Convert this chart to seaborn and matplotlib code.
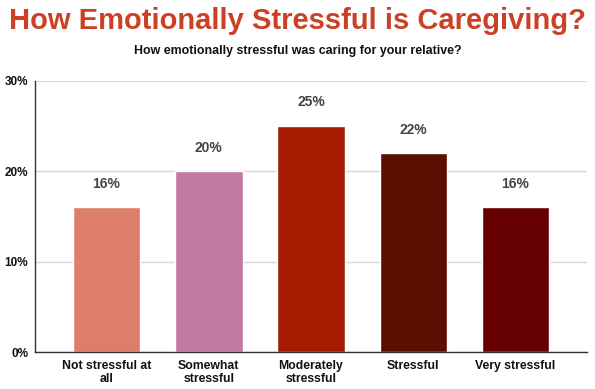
import matplotlib
matplotlib.use("Agg")
import matplotlib.pyplot as plt
import seaborn as sns
import pandas as pd
from matplotlib.ticker import FuncFormatter

categories = ["Not stressful at\nall", "Somewhat\nstressful", "Moderately\nstressful", "Stressful", "Very stressful"]
values = [16, 20, 25, 22, 16]
colors = ["#DD7E6B", "#C27BA0", "#A61C00", "#5B0F00", "#660000"]
yticks = [0, 10, 20, 30]

sns.set_theme(style="white")
plt.rcParams['font.family'] = ['Liberation Sans', 'DejaVu Sans']

df = pd.DataFrame({"cat": categories, "val": values})

fig = plt.figure(figsize=(5.95, 3.89), dpi=100)
ax = fig.add_axes([0.0588, 0.0951, 0.9278, 0.6967])
sns.barplot(data=df, x="cat", y="val", hue="cat", palette=colors, legend=False,
            width=0.66, ax=ax, saturation=1)

ax.set_xlim(-0.7, len(categories) - 0.3)
ax.set_ylim(0, 30)
ax.set_yticks(yticks)
ax.yaxis.set_major_formatter(FuncFormatter(lambda v, p: f"{int(v)}%"))
ax.grid(axis="y", color="#D9D9D9", linewidth=1)
ax.set_axisbelow(True)
for s in ["top", "right"]:
    ax.spines[s].set_visible(False)
ax.spines["left"].set_color("#333333")
ax.spines["bottom"].set_color("#333333")
ax.spines["left"].set_linewidth(1)
ax.spines["bottom"].set_linewidth(1)
ax.set_xlabel("")
ax.set_ylabel("")
ax.tick_params(axis="x", length=0, pad=6)
ax.tick_params(axis="y", length=0, pad=5)
for lab in ax.get_xticklabels():
    lab.set_fontweight("bold")
    lab.set_fontsize(8.8)
    lab.set_color("#111111")
    lab.set_linespacing(1.1)
for lab in ax.get_yticklabels():
    lab.set_fontweight("bold")
    lab.set_fontsize(8.5)
    lab.set_color("#111111")

for cont in ax.containers:
    ax.bar_label(cont, labels=[f"{int(v.get_height())}%" for v in cont], padding=12,
                 fontsize=10, fontweight="bold", color="#444444")

fig.text(0.5, 0.945, "How Emotionally Stressful is Caregiving?", ha="center", va="center",
         fontsize=21, fontweight="bold", color="#CC4125")
fig.text(0.5, 0.868, "How emotionally stressful was caring for your relative?", ha="center", va="center",
         fontsize=8.9, fontweight="bold", color="#111111")

fig.savefig("out.png", dpi=100)
